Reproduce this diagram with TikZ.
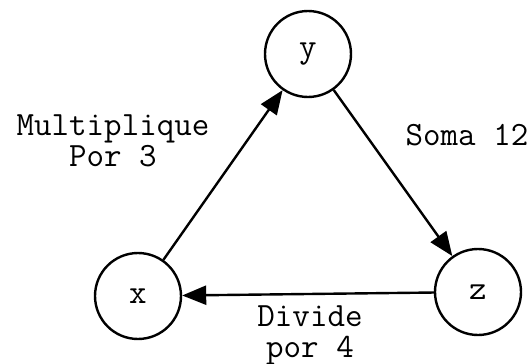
\documentclass[tikz,border=0pt]{standalone}
\usepackage{fontspec}
\usetikzlibrary{arrows.meta}

\begin{document}
\begin{tikzpicture}[x=1pt, y=-1pt, line width=2.4pt,
    estado/.style={circle, draw, minimum size=86pt, inner sep=0pt, font=\ttfamily\fontsize{34}{34}\selectfont},
    rotulo/.style={align=center, font=\ttfamily\fontsize{34}{31}\selectfont},
    seta/.style={-{Triangle[length=24pt, width=19pt]}}]
    \useasboundingbox (0,0) rectangle (531,364);

    \node[estado] (y) at (308,54) {y};
    \node[estado] (x) at (138,296) {x};
    \node[estado] (z) at (478,292) {z};

    \draw[seta] (x) -- (y);
    \draw[seta] (y) -- (z);
    \draw[seta] (z) -- (x);

    \node[rotulo] (mult) at (113,141) {Multiplique\\Por 3};
    \node[rotulo] (soma) at (467,135) {Soma 12};
    \node[rotulo] (div) at (310,335) {Divide\\por 4};
\end{tikzpicture}
\end{document}
